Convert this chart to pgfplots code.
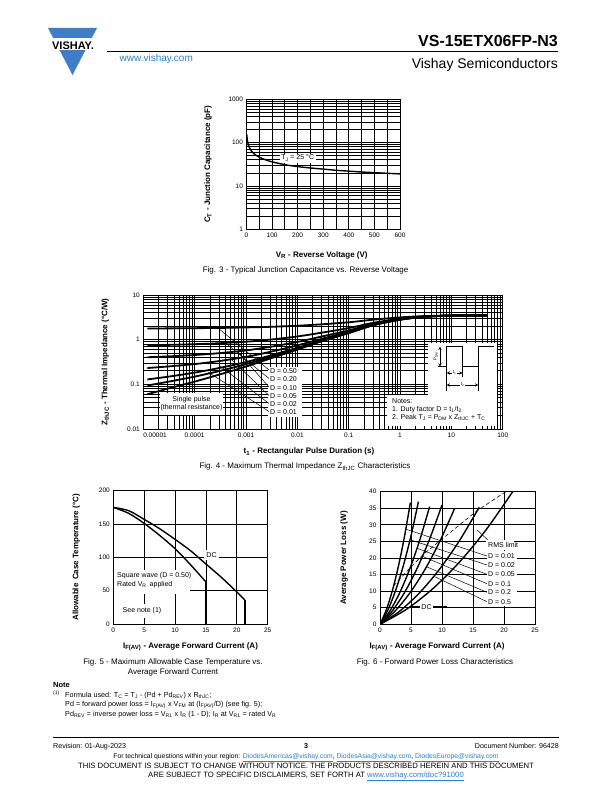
\documentclass[border=0pt]{standalone}
\usepackage{pgfplots}
\pgfplotsset{compat=1.18}
\usepackage{fontspec}
\setmainfont{Liberation Sans}
\definecolor{vblue}{RGB}{62,126,200}
\definecolor{lblue}{RGB}{38,132,214}
\newcommand{\sub}[1]{\textsubscript{#1}}
\pgfplotsset{
  dsheet/.style={
    scale only axis,
    axis line style={black, line width=0.9pt},
    tick style={draw=none},
    grid=both,
    major grid style={black, line width=0.8pt},
    minor grid style={black, line width=0.8pt},
    tick label style={font=\fontsize{6.5}{7}\selectfont},
    /pgf/number format/assume math mode=true,
    label style={font=\bfseries\fontsize{8}{9}\selectfont},
    xlabel style={anchor=center},
    ylabel style={anchor=center},
    cycle list={{black,mark=none}},
    every axis plot/.append style={black, line width=1.4pt},
  }
}
\begin{document}
\begin{tikzpicture}
\useasboundingbox (0,0) rectangle (612pt,-792pt);
\fill[white] (0,0) rectangle (612pt,-792pt);

% ---------------- Fig. 3 ----------------
\begin{axis}[dsheet, at={(246.5pt,-229.3pt)}, anchor=south west,
  width=153.5pt, height=130pt,
  xmin=0, xmax=600, ymode=log, ymin=1, ymax=1000,
  xtick={0,100,...,600}, minor xtick={50,150,...,550},
  ytick={1,10,100,1000}, yticklabels={1,10,100,1000},
  xlabel={V\sub{R} - Reverse Voltage (V)},
  ylabel={C\sub{T} - Junction Capacitance (pF)},
  xlabel style={at={(axis description cs:0.49,-0.2)}},
  ylabel style={at={(axis description cs:-0.25,0.5)}},
]
\addplot[smooth] coordinates {(1,155) (3,118) (6,95) (10,80) (20,63) (30,55) (50,46) (75,40) (100,36) (150,31) (200,28) (250,26) (300,24.5) (350,23) (400,22) (450,21) (500,20.3) (550,19.6) (600,19)};
\node[fill=white, inner sep=1.5pt, font=\fontsize{7}{8}\selectfont] at (axis cs:200,44) {T\sub{J} = 25 °C};
\end{axis}

% ---------------- Fig. 4 ----------------
\begin{axis}[dsheet, at={(143.3pt,-429pt)}, anchor=south west,
  width=359.4pt, height=134pt,
  xmode=log, ymode=log, xmin=1e-5, xmax=100, ymin=0.01, ymax=10,
  xtick={1e-5,1e-4,1e-3,1e-2,1e-1,1,10,100},
  xticklabels={\makebox[0pt][l]{0.00001},0.0001,0.001,0.01,0.1,1,10,100},
  ytick={0.01,0.1,1,10}, yticklabels={0.01,0.1,1,10},
  xlabel={t\sub{1} - Rectangular Pulse Duration (s)},
  ylabel={Z\sub{thJC} - Thermal Impedance (°C/W)},
  xlabel style={at={(axis description cs:0.461,-0.17)}},
  ylabel style={at={(axis description cs:-0.106,0.5)}},
  every axis plot/.append style={line width=1.8pt, smooth},
]
% D = 0.50
\addplot coordinates {(1.2e-5,1.78) (3e-5,1.79) (1e-4,1.81) (3e-4,1.83) (1e-3,1.88) (3e-3,1.94) (1e-2,2.05) (3e-2,2.21) (0.1,2.45) (0.3,2.80) (1,3.15) (3,3.38) (10,3.48) (50,3.50)};
% D = 0.20
\addplot coordinates {(1.2e-5,0.748) (3e-5,0.764) (1e-4,0.792) (3e-4,0.832) (1e-3,0.90) (3e-3,1.004) (1e-2,1.18) (3e-2,1.436) (0.1,1.82) (0.3,2.38) (1,2.94) (3,3.30) (10,3.46) (50,3.50)};
% D = 0.10
\addplot coordinates {(1.2e-5,0.404) (3e-5,0.422) (1e-4,0.454) (3e-4,0.499) (1e-3,0.575) (3e-3,0.692) (1e-2,0.89) (3e-2,1.178) (0.1,1.61) (0.3,2.24) (1,2.87) (3,3.275) (10,3.455) (50,3.50)};
% D = 0.05
\addplot coordinates {(1.2e-5,0.232) (3e-5,0.251) (1e-4,0.284) (3e-4,0.332) (1e-3,0.4125) (3e-3,0.536) (1e-2,0.745) (3e-2,1.049) (0.1,1.505) (0.3,2.17) (1,2.835) (3,3.26) (10,3.45) (50,3.50)};
% D = 0.02
\addplot coordinates {(1.2e-5,0.129) (3e-5,0.148) (1e-4,0.183) (3e-4,0.232) (1e-3,0.315) (3e-3,0.442) (1e-2,0.658) (3e-2,0.972) (0.1,1.442) (0.3,2.128) (1,2.814) (3,3.255) (10,3.451) (50,3.50)};
% D = 0.01
\addplot coordinates {(1.2e-5,0.094) (3e-5,0.114) (1e-4,0.149) (3e-4,0.198) (1e-3,0.2825) (3e-3,0.411) (1e-2,0.629) (3e-2,0.946) (0.1,1.421) (0.3,2.114) (1,2.807) (3,3.2525) (10,3.45) (50,3.50)};
% Single pulse
\addplot coordinates {(1.2e-5,0.060) (3e-5,0.080) (1e-4,0.115) (3e-4,0.165) (1e-3,0.250) (3e-3,0.380) (1e-2,0.600) (3e-2,0.920) (0.1,1.40) (0.3,2.10) (1,2.80) (3,3.25) (10,3.45) (50,3.50)};
\end{axis}

% ---------------- Fig. 5 ----------------
\begin{axis}[dsheet, at={(113.3pt,-624pt)}, anchor=south west,
  width=154.4pt, height=133.3pt, grid=major,
  xmin=0, xmax=25, ymin=0, ymax=200,
  xtick={0,5,...,25}, ytick={0,50,...,200},
  xlabel={I\sub{F(AV)} - Average Forward Current (A)},
  ylabel={Allowable\, Case Temperature (°C)},
  xlabel style={at={(axis description cs:0.5,-0.17)}},
  ylabel style={at={(axis description cs:-0.24,0.5)}},
]
% Square wave (D = 0.50)
\addplot[smooth] coordinates {(0,175) (2.5,166) (5,151) (7.5,133) (10,113) (12.5,89) (15,63)};
\addplot[line width=1.8pt] coordinates {(15,63) (15,0)};
% DC
\addplot[smooth] coordinates {(0,175) (2.5,170) (5,157) (7.5,143) (10,127) (12.5,110) (15,90) (17.5,70) (20,48) (21.3,36)};
\addplot[line width=1.8pt] coordinates {(21.3,36) (21.3,0)};
\end{axis}

% ---------------- Fig. 6 ----------------
\begin{axis}[dsheet, at={(380pt,-624.3pt)}, anchor=south west,
  width=155pt, height=132.6pt, grid=major,
  xmin=0, xmax=25, ymin=0, ymax=40,
  xtick={0,5,...,25}, ytick={0,5,...,40},
  xlabel={I\sub{F(AV)} - Average Forward Current (A)},
  ylabel={Average Power Loss (W)},
  xlabel style={at={(axis description cs:0.368,-0.17)}},
  ylabel style={at={(axis description cs:-0.232,0.5)}},
  every axis plot/.append style={smooth},
]
% D = 0.01
\addplot coordinates {(0,0) (0.98,4.17) (1.96,9.92) (2.94,17.26) (3.92,26.19) (4.9,36.7)};
% D = 0.02
\addplot coordinates {(0,0) (1.24,4.20) (2.48,10.0) (3.72,17.4) (4.96,26.4) (6.2,37.0)};
% D = 0.05
\addplot coordinates {(0,0) (1.6,4.03) (3.2,9.6) (4.8,16.7) (6.4,25.33) (8.0,35.5)};
% D = 0.1
\addplot coordinates {(0,0) (2,4.09) (4,9.73) (6,16.93) (8,25.69) (10,36.0)};
% D = 0.2
\addplot coordinates {(0,0) (2.4,3.95) (4.8,9.41) (7.2,16.37) (9.6,24.83) (12,34.8)};
% D = 0.5
\addplot coordinates {(0,0) (3.2,4.01) (6.4,9.55) (9.6,16.61) (12.8,25.19) (16,35.3)};
% DC
\addplot coordinates {(0,0) (4.28,4.54) (8.56,10.82) (12.84,18.82) (17.12,28.54) (21.4,40)};
% RMS limit
\addplot[line width=0.6pt, dash pattern=on 4pt off 2.5pt, sharp plot] coordinates {(2.2,11.6) (3.1,13.5) (4.9,17.1) (7.0,21.1) (9.8,25.4) (15.6,34.2) (21.5,41.5)};
\end{axis}

% ---------------- page furniture & annotations ----------------
\begin{scope}[x=1pt,y=-1pt]
% logo
\fill[vblue] (48,28) -- (97,28) -- (72.5,75) -- cycle;
\fill[white] (44,38.5) rectangle (102,50.5);
\node[anchor=base, font=\bfseries\fontsize{11}{12}\selectfont, inner sep=0pt] at (73,49) {VISHAY.};
\node[anchor=base west, font=\fontsize{10}{11}\selectfont, text=lblue, inner sep=0pt] at (119.5,62) {www.vishay.com};
\draw[line width=1pt] (107,52) -- (558,52);
\node[anchor=base east, font=\bfseries\fontsize{16}{17}\selectfont, inner sep=0pt] at (558,47) {VS-15ETX06FP-N3};
\node[anchor=base east, font=\fontsize{14}{15}\selectfont, inner sep=0pt] at (558,68) {Vishay Semiconductors};

% captions
\node[font=\fontsize{8}{9.5}\selectfont] at (305.6,270) {Fig. 3 - Typical Junction Capacitance vs. Reverse Voltage};
\node[font=\fontsize{8}{9.5}\selectfont] at (305,466.7) {Fig. 4 - Maximum Thermal Impedance Z\sub{thJC} Characteristics};
\node[font=\fontsize{8}{9.5}\selectfont, align=center] at (173,667.5) {Fig. 5 - Maximum Allowable Case Temperature vs.\\Average Forward Current};
\node[font=\fontsize{8}{9.5}\selectfont] at (435,662) {Fig. 6 - Forward Power Loss Characteristics};

% Fig 4 annotations
\begin{scope}[font=\fontsize{7}{8}\selectfont]
\fill[white] (268,367) rectangle (302,417);
\foreach \yy/\tt in {371/0.50, 379.5/0.20, 388/0.10, 396.5/0.05, 404.5/0.02, 412.5/0.01}{
  \node[anchor=west, inner sep=0pt] at (270,\yy) {D = \tt};
}
\draw[line width=0.5pt] (218,328) -- (269,370);
\draw[line width=0.5pt] (228,345) -- (269,378.5);
\draw[line width=0.5pt] (238,352) -- (269,387);
\draw[line width=0.5pt] (232,360) -- (269,395.5);
\draw[line width=0.5pt] (220,366) -- (269,403.5);
\draw[line width=0.5pt] (208,372) -- (269,411.5);
\fill[white] (160,393) rectangle (223,415);
\node[align=center, inner sep=0pt] at (191.5,403.5) {Single pulse\\(thermal resistance)};
% pulse diagram
\fill[white] (428,343) rectangle (497,395);
\draw[line width=0.8pt] (438,366.7) -- (446.7,366.7) -- (446.7,346.7) -- (462.7,346.7) -- (462.7,366.7) -- (478.3,366.7) -- (478.3,346.7) -- (494,346.7);
\draw[line width=0.5pt] (446.7,366.7) -- (446.7,391) (462.7,366.7) -- (462.7,377) (478.3,366.7) -- (478.3,391);
\draw[line width=0.5pt, -stealth] (440,356.7) -- (440,346.7);
\draw[line width=0.5pt, -stealth] (440,356.7) -- (440,366.7);
\node[rotate=90, font=\fontsize{4.5}{5}\selectfont, inner sep=0.5pt] at (435.5,356.7) {P\sub{DM}};
\draw[line width=0.5pt, stealth-stealth] (446.7,373) -- (462.7,373);
\node[fill=white, font=\fontsize{4.5}{5}\selectfont, inner sep=0.5pt] at (454.7,373) {t\sub{1}};
\draw[line width=0.5pt, stealth-stealth] (446.7,385) -- (478.3,385);
\node[fill=white, font=\fontsize{4.5}{5}\selectfont, inner sep=0.5pt] at (462.5,385) {t\sub{2}};
% notes
\fill[white] (387,395) rectangle (497,426);
\node[anchor=base west, inner sep=0pt] at (392,403.5) {Notes:};
\node[anchor=base west, inner sep=0pt] at (392,411.5) {1. Duty factor D = t\sub{1}/t\sub{2}};
\node[anchor=base west, inner sep=0pt] at (392,419.5) {2. Peak T\sub{J} = P\sub{DM} x Z\sub{thJC} + T\sub{C}};
\end{scope}

% Fig 5 annotations
\begin{scope}[font=\fontsize{7}{8}\selectfont]
\fill[white] (114,569.5) rectangle (190,594);
\node[anchor=base west, inner sep=0pt] at (117,577) {Square wave (D = 0.50)};
\node[anchor=base west, inner sep=0pt] at (117,586.5) {Rated V\sub{R}\, applied};
\fill[white] (118,604) rectangle (166,618);
\node[inner sep=0pt] at (142,611) {See note (1)};
\fill[white] (204,550) rectangle (219,560);
\node[inner sep=0pt] at (211.5,555) {DC};
\end{scope}

% Fig 6 annotations
\begin{scope}[font=\fontsize{7}{8}\selectfont]
\draw[line width=0.5pt] (405.9,529.2) -- (487,556);
\draw[line width=0.5pt] (410.2,539.8) -- (487,565);
\draw[line width=0.5pt] (417.4,548.4) -- (487,574.3);
\draw[line width=0.5pt] (422.5,556.3) -- (487,583.7);
\draw[line width=0.5pt] (426.1,566.6) -- (487,592.3);
\draw[line width=0.5pt] (434.6,576.6) -- (487,601.7);
\fill[white] (487,551) rectangle (517,606);
\foreach \yy/\tt in {556/0.01, 565/0.02, 574.3/0.05, 583.7/0.1, 592.3/0.2, 601.7/0.5}{
  \node[anchor=west, inner sep=0pt] at (488,\yy) {D = \tt};
}
\draw[line width=0.5pt] (477,530) -- (489,541);
\fill[white] (486,540) rectangle (514,550);
\node[anchor=west, inner sep=0pt] at (488,545) {RMS limit};
\draw[line width=0.5pt] (410,606.7) -- (447,606.7);
\fill[white] (420,602) rectangle (433,611.5);
\node[inner sep=0pt] at (426.5,606.7) {DC};
\end{scope}

% Note
\begin{scope}[font=\fontsize{7.2}{8.5}\selectfont]
\node[anchor=base west, inner sep=0pt, font=\bfseries\fontsize{7.5}{8}\selectfont] at (53,687) {Note};
\node[anchor=base west, inner sep=0pt, font=\fontsize{5}{6}\selectfont] at (53,694.5) {(1)};
\node[anchor=base west, inner sep=0pt] at (65,697) {Formula used: T\sub{C} = T\sub{J} - (Pd + Pd\sub{REV}) x R\sub{thJC};};
\node[anchor=base west, inner sep=0pt] at (65,706.5) {Pd = forward power loss = I\sub{F(AV)} x V\sub{FM} at (I\sub{F(AV)}/D) (see fig. 5);};
\node[anchor=base west, inner sep=0pt] at (65,716) {Pd\sub{REV} = inverse power loss = V\sub{R1} x I\sub{R} (1 - D); I\sub{R} at V\sub{R1} = rated V\sub{R}};
\end{scope}

% footer
\draw[line width=1pt] (53,737) -- (559,737);
\begin{scope}[font=\fontsize{7.1}{8}\selectfont]
\node[anchor=base west, inner sep=0pt] at (53,748) {Revision: 01-Aug-2023};
\node[anchor=base, inner sep=0pt, font=\bfseries\fontsize{7.1}{8}\selectfont] at (306,748) {3};
\node[anchor=base east, inner sep=0pt] at (559,748) {Document Number: 96428};
\end{scope}
\node[anchor=base, inner sep=0pt, font=\fontsize{6.8}{8}\selectfont] at (306,758.5) {For technical questions within your region: \textcolor{lblue}{\underline{DiodesAmericas@vishay.com}}, \textcolor{lblue}{\underline{DiodesAsia@vishay.com}}, \textcolor{lblue}{\underline{DiodesEurope@vishay.com}}};
\begin{scope}[font=\fontsize{7.7}{8}\selectfont]
\node[anchor=base, inner sep=0pt] at (306,768.5) {THIS DOCUMENT IS SUBJECT TO CHANGE WITHOUT NOTICE. THE PRODUCTS DESCRIBED HEREIN AND THIS DOCUMENT};
\node[anchor=base, inner sep=0pt] at (306,777.5) {ARE SUBJECT TO SPECIFIC DISCLAIMERS, SET FORTH AT \textcolor{lblue}{\underline{www.vishay.com/doc?91000}}};
\end{scope}
\end{scope}
\end{tikzpicture}
\end{document}
